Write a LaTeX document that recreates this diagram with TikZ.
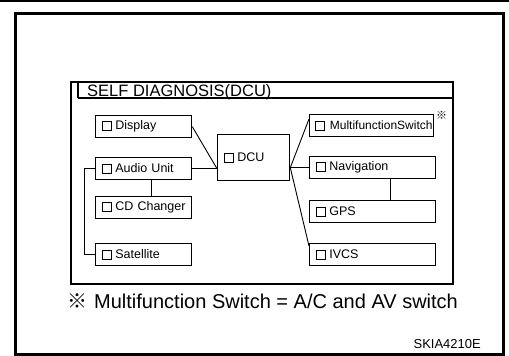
\documentclass[tikz,border=0pt]{standalone}
\usepackage{fontspec}
\setmainfont{Liberation Sans}
\newfontfamily\cjk{Noto Sans CJK SC}
\newcommand{\chkbox}{{\setlength{\fboxsep}{0pt}\setlength{\fboxrule}{1.1pt}\fbox{\rule{0pt}{8pt}\rule{8pt}{0pt}}}}
\newcommand{\unitlbl}[1]{\mbox{\chkbox\hspace{3.5pt}#1}}
\begin{document}
\begin{tikzpicture}[x=1pt,y=-1pt,
  unitbox/.style={draw, line width=1.3pt, minimum height=22pt, inner xsep=6pt, inner ysep=0pt,
    anchor=north west, font=\fontsize{12.5}{12.5}\selectfont, align=left},
  leftbox/.style={unitbox, text width=84pt},
  rightbox/.style={unitbox, text width=114pt},
  link/.style={draw, line width=0.9pt}
]
\useasboundingbox (0,0) rectangle (509,356);
% outer frame
\draw[line width=2pt] (0,1) -- (509,1);
\draw[line width=3pt] (15.5,13) rectangle (503.5,354.5);
% panel
\draw[line width=1.1pt] (71,82) rectangle (453,284);
\draw[line width=1.1pt] (78,82) -- (78,98) (78,98) -- (453,98);
\node[anchor=base west, font=\fontsize{16.5}{16.5}\selectfont, inner sep=0] (title) at (87,96) {SELF DIAGNOSIS(DCU)};
% left column
\node[leftbox] (disp) at (95,115) {\unitlbl{Display}};
\node[leftbox] (audio) at (95,157) {\unitlbl{Audio Unit}};
\node[leftbox] (cd) at (95,196) {\unitlbl{CD Changer}};
\node[leftbox] (sat) at (95,243) {\unitlbl{Satellite}};
% DCU
\node[unitbox, text width=60pt, minimum height=46pt] (dcu) at (217,134) {\unitlbl{DCU}};
% right column
\node[rightbox, inner xsep=5pt] (mfs) at (309,114) {\mbox{\chkbox\hspace{5pt}{\fontsize{12}{12}\selectfont MultifunctionSwitch}}};
\node[anchor=north west, inner sep=0, font=\cjk\fontsize{11}{11}\selectfont] (ref) at (436,111) {※};
\node[rightbox] (nav) at (309,156) {\unitlbl{Navigation}};
\node[rightbox] (gps) at (309,200) {\unitlbl{GPS}};
\node[rightbox] (ivcs) at (309,243) {\unitlbl{IVCS}};
% connectors left
\coordinate (jl) at (audio.east -| dcu.west);
\path[link] (disp.east) -- (jl);
\path[link] (audio.east) -- (jl);
\path[link] ([xshift=8pt]audio.south) -- ([xshift=8pt]cd.north);
\path[link] (audio.west) -- ++(-11,0) |- (sat.west);
% connectors right
\coordinate (jr) at (nav.west -| dcu.east);
\path[link] (jr) -- ([yshift=-5pt]mfs.north west);
\path[link] (jr) -- (nav.west);
\path[link] (jr) -- ([yshift=-3pt]ivcs.north west);
\path[link] ([xshift=18pt]nav.south) -- ([xshift=18pt]gps.north);
% note
\node[anchor=base west, inner sep=0, font=\fontsize{20}{20}\selectfont] (note) at (67,308) {{\cjk ※}\hspace{7pt}Multifunction Switch = A/C and AV switch};
\node[anchor=base east, inner sep=0, font=\fontsize{13}{13}\selectfont] (code) at (481,348) {SKIA4210E};
\end{tikzpicture}
\end{document}
